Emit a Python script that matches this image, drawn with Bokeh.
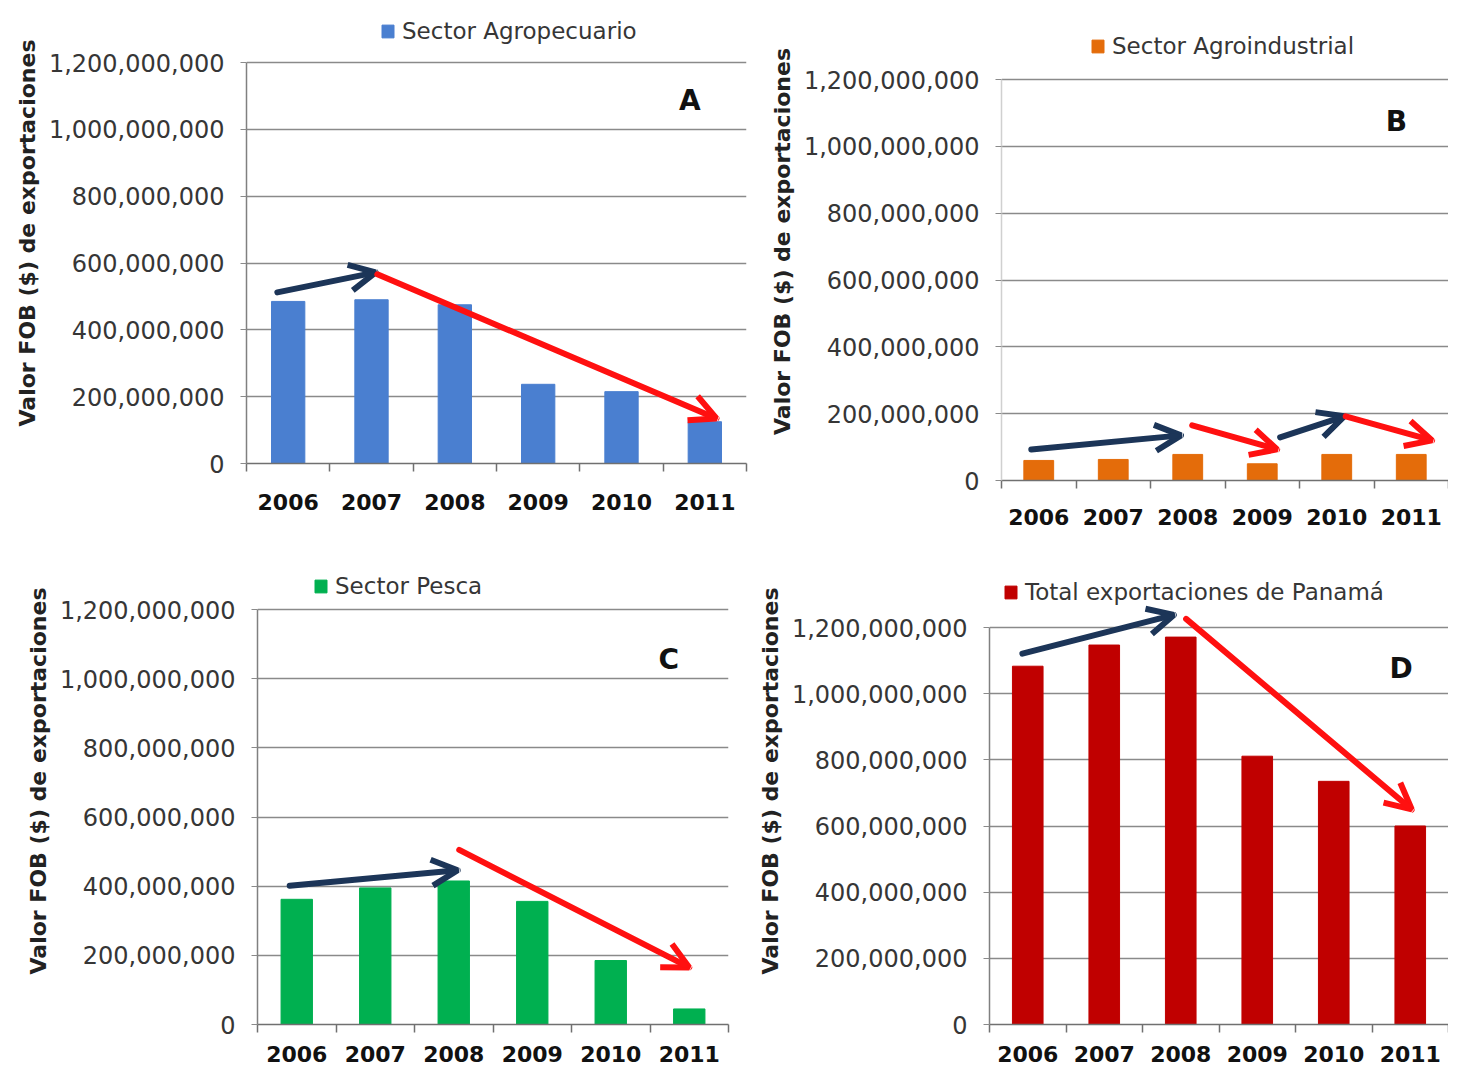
from bokeh.plotting import figure
from bokeh.models import (FixedTicker, NumeralTickFormatter, Arrow, OpenHead, Label,
                          Legend, LegendItem, Range1d, ColumnDataSource)
from bokeh.layouts import column, row
from bokeh.embed import file_html
from bokeh.resources import INLINE

# ---------------- data ----------------
years = ["2006", "2007", "2008", "2009", "2010", "2011"]
agropecuario = [485e6, 490e6, 475e6, 237e6, 215e6, 125e6]
agroindustrial = [60e6, 63e6, 78e6, 50e6, 78e6, 78e6]
pesca = [362e6, 395e6, 415e6, 356e6, 185e6, 45e6]
total_panama = [1083e6, 1147e6, 1171e6, 811e6, 735e6, 600e6]
y_ticks = [0, 200e6, 400e6, 600e6, 800e6, 1000e6, 1200e6]

series_names = ["Sector Agropecuario", "Sector Agroindustrial", "Sector Pesca",
                "Total exportaciones de Panamá"]
panel_letters = ["A", "B", "C", "D"]
y_title = "Valor FOB ($) de exportaciones"

# ---------------- styles / annotations ----------------
BLUE = "#4a7fd0"
ORANGE = "#e46c0a"
GREEN = "#00b050"
DARKRED = "#c00000"
NAVY = "#1c3558"
RED = "#ff1010"
GRID = "#8a8a8a"
TXT = "#363636"
FONT = "DejaVu Sans"

# arrows: (x_start, y_start, x_end, y_end, colour), x in category-index units
arrows_a = [(-0.13, 512e6, 1.05, 572e6, NAVY), (1.07, 566e6, 5.14, 135e6, RED)]
arrows_b = [(-0.10, 93e6, 1.91, 135e6, NAVY), (2.06, 165e6, 3.20, 93e6, RED),
            (3.24, 129e6, 4.10, 192e6, NAVY), (4.12, 192e6, 5.28, 120e6, RED)]
arrows_c = [(-0.09, 401e6, 2.05, 446e6, NAVY), (2.07, 505e6, 5.00, 165e6, RED)]
arrows_d = [(-0.07, 1121e6, 1.91, 1238e6, NAVY), (2.07, 1226e6, 5.02, 650e6, RED)]


def make_panel(values, color, name, letter, letter_xy, arrows, width, height,
               bl, br, bt, bb, y1200_px, y0_px, legend_px, axis_color, xstand):
    frame_h = height - bt - bb
    y_end = 1.2e9 * frame_h / (y0_px - y1200_px)
    p = figure(width=width, height=height, x_range=Range1d(-0.5, 5.5),
               y_range=Range1d(0, y_end), output_backend="svg",
               toolbar_location=None, min_border_left=bl, min_border_right=br,
               min_border_top=bt, min_border_bottom=bb, outline_line_color=None,
               background_fill_color="white", border_fill_color="white")
    xs = list(range(len(years)))
    src = ColumnDataSource(dict(x=xs, year=years, value=values))
    r = p.vbar(x="x", top="value", width=0.4, source=src, fill_color=color,
               line_color=color)

    # x axis
    xa = p.xaxis[0]
    xa.ticker = FixedTicker(ticks=xs, minor_ticks=[i - 0.5 for i in range(len(years) + 1)])
    xa.major_label_overrides = {i: y for i, y in enumerate(years)}
    xa.major_tick_line_color = None
    xa.major_tick_out = 0
    xa.major_tick_in = 0
    xa.minor_tick_line_color = "#707070"
    xa.minor_tick_line_width = 1.5
    xa.minor_tick_out = 8
    xa.minor_tick_in = 0
    xa.axis_line_color = "#707070"
    xa.axis_line_width = 1.5
    xa.major_label_standoff = xstand
    xa.major_label_text_font = FONT
    xa.major_label_text_font_style = "bold"
    xa.major_label_text_font_size = "22px"
    xa.major_label_text_color = "#111111"

    # y axis
    ya = p.yaxis[0]
    ya.ticker = FixedTicker(ticks=y_ticks)
    ya.formatter = NumeralTickFormatter(format="0,0")
    ya.bounds = (0, 1.2e9)
    ya.axis_line_color = axis_color
    ya.axis_line_width = 1.5
    ya.major_tick_line_color = GRID
    ya.major_tick_out = 6
    ya.major_tick_in = 0
    ya.minor_tick_line_color = None
    ya.major_label_standoff = 16
    ya.major_label_text_font = FONT
    ya.major_label_text_font_size = "24px"
    ya.major_label_text_color = TXT
    ya.axis_label = y_title
    ya.axis_label_text_font = FONT
    ya.axis_label_text_font_style = "bold"
    ya.axis_label_text_font_size = "22px"
    ya.axis_label_text_color = "#222222"
    ya.axis_label_standoff = 6

    p.xgrid.visible = False
    p.ygrid.ticker = FixedTicker(ticks=y_ticks)
    p.ygrid.grid_line_color = GRID
    p.ygrid.grid_line_width = 1.5

    # legend (placed in screen px relative to frame bottom-left)
    leg = Legend(items=[LegendItem(label=name, renderers=[r])],
                 location=legend_px, border_line_color=None,
                 background_fill_alpha=0, padding=0, margin=0,
                 glyph_width=15, glyph_height=16, label_standoff=7,
                 label_text_font=FONT, label_text_font_size="23px",
                 label_text_color=TXT)
    p.add_layout(leg)

    for (x0, y0, x1, y1, c) in arrows:
        p.add_layout(Arrow(x_start=x0, y_start=y0, x_end=x1, y_end=y1,
                           line_color=c, line_width=6, line_cap="round",
                           end=OpenHead(size=26, line_color=c, line_width=6)))

    p.add_layout(Label(x=letter_xy[0], y=letter_xy[1], text=letter,
                       text_font=FONT, text_font_style="bold",
                       text_font_size="28px", text_color="#111111",
                       text_align="center", text_baseline="middle"))
    return p


# picture-pixel layout helper: (glyph-left, centre-y) -> legend offset from frame
def leg_loc(glyph_left, frame_left, centre_y, frame_bottom):
    return (glyph_left - frame_left, frame_bottom - centre_y - 13)


pA = make_panel(agropecuario, BLUE, series_names[0], panel_letters[0], (4.82, 1086e6),
                arrows_a, 750, 535, 246, 4, 2, 72, 62, 463,
                leg_loc(380, 246, 31, 463), "#808080", 22)
pB = make_panel(agroindustrial, ORANGE, series_names[1], panel_letters[1], (4.80, 1074e6),
                arrows_b, 698, 535, 251, 0, 2, 55, 79, 480,
                leg_loc(1090, 1001, 46, 480), "#d0d0d0", 20)
pC = make_panel(pesca, GREEN, series_names[2], panel_letters[2], (4.74, 1054e6),
                arrows_c, 745, 538, 257, 17, 2, 49, 609, 1024,
                leg_loc(313, 257, 586, 1024), "#808080", 13)
pD = make_panel(total_panama, DARKRED, series_names[3], panel_letters[3], (4.88, 1077e6),
                arrows_d, 703, 538, 244, 0, 2, 49, 627, 1024,
                leg_loc(1003, 989, 592, 1024), "#808080", 13)

layout = column(row(column(pA), column(pB)), row(column(pC), column(pD)))

open("out.html", "w").write(file_html(layout, INLINE))
